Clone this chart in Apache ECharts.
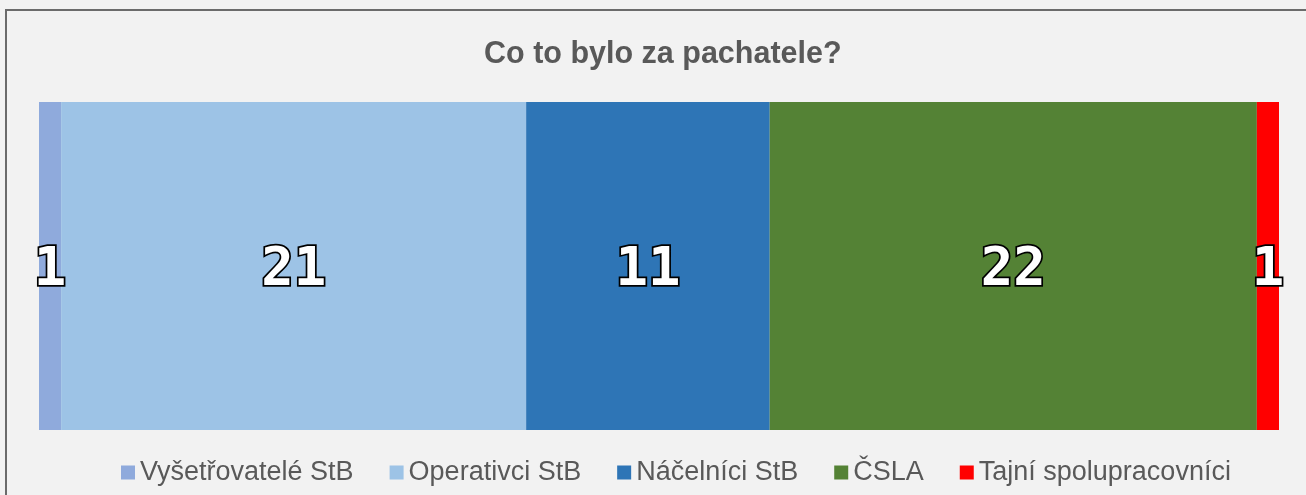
<!DOCTYPE html>
<html>
<head>
<meta charset="utf-8">
<script src="https://cdn.jsdelivr.net/npm/echarts@6/dist/echarts.min.js"></script>
<style>
  html, body { margin: 0; padding: 0; background: #f2f2f2; }
  #chart { width: 1306px; height: 495px; }
</style>
</head>
<body>
<div id="chart"></div>
<script>
  // kategorie pachatelů a jejich počty
  const seriesNames = ['Vyšetřovatelé StB', 'Operativci StB', 'Náčelníci StB', 'ČSLA', 'Tajní spolupracovníci']
  const seriesValues = [1, 21, 11, 22, 1]
  const seriesColors = ['#8faadc', '#9dc3e6', '#2e75b6', '#548235', '#ff0000']
  const total = seriesValues.reduce((a, b) => a + b, 0)

  const chart = echarts.init(document.getElementById('chart'))
  const option = {
    backgroundColor: '#f2f2f2',
    animation: false,
    title: {
      text: 'Co to bylo za pachatele?',
      left: 479,
      top: 34,
      textStyle: {
        fontFamily: 'Liberation Sans',
        fontWeight: 'bold',
        fontSize: 30.5,
        color: '#595959'
      }
    },
    graphic: [
      { type: 'rect', shape: { x: 6, y: 10, width: 1330, height: 520 },
        style: { fill: 'none', stroke: '#6b6b6b', lineWidth: 2 }, silent: true }
    ],
    legend: {
      bottom: 4,
      left: 116,
      itemWidth: 14,
      itemHeight: 14,
      itemGap: 36,
      icon: 'rect',
      textStyle: {
        fontFamily: 'Liberation Sans',
        fontSize: 27,
        color: '#595959'
      },
      data: seriesNames
    },
    grid: { left: 39, right: 27, top: 102, height: 328 },
    xAxis: { type: 'value', min: 0, max: total, show: false },
    yAxis: { type: 'category', data: [''], show: false },
    series: seriesNames.map((name, i) => ({
      name: name,
      type: 'bar',
      stack: 'all',
      barWidth: '100%',
      data: [seriesValues[i]],
      itemStyle: { color: seriesColors[i] },
      label: {
        show: true,
        position: 'inside',
        offset: [0, 5],
        fontFamily: 'DejaVu Sans Mono',
        fontWeight: 'bold',
        fontSize: 54,
        color: '#ffffff',
        textBorderColor: '#000000',
        textBorderWidth: 3.5
      }
    }))
  }
  chart.setOption(option)
</script>
</body>
</html>
